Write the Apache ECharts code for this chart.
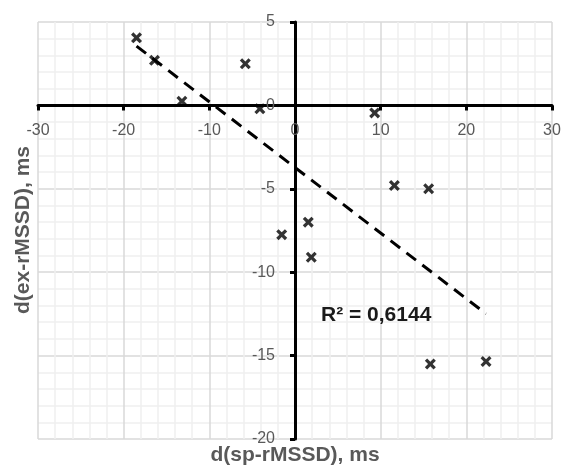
<!DOCTYPE html>
<html>
<head>
<meta charset="utf-8">
<script src="https://cdn.jsdelivr.net/npm/echarts@6/dist/echarts.min.js"></script>
<style>
html,body{margin:0;padding:0;background:#fff;}
#chart{width:563px;height:468px;}
</style>
</head>
<body>
<div id="chart"></div>
<script>
// Data
const xValues = [-18.5, -16.4, -13.2, -5.8, -4.1, 9.3, 11.6, 15.6, -1.55, 1.55, 1.9, 15.8, 22.3];
const yValues = [4.05, 2.7, 0.25, 2.5, -0.2, -0.45, -4.8, -5.0, -7.75, -7.0, -9.1, -15.5, -15.35];
const xTitle = 'd(sp-rMSSD), ms';
const yTitle = 'd(ex-rMSSD), ms';
const r2Label = 'R² = 0,6144';
const xRange = [-30, 30, 10];
const yRange = [-20, 5, 5];

const points = xValues.map((x, i) => [x, yValues[i]]);

// linear regression trendline (computed from the data)
const n = xValues.length;
const mx = xValues.reduce((a, b) => a + b, 0) / n;
const my = yValues.reduce((a, b) => a + b, 0) / n;
let sxy = 0, sxx = 0;
for (let i = 0; i < n; i++) { sxy += (xValues[i] - mx) * (yValues[i] - my); sxx += (xValues[i] - mx) ** 2; }
const slope = sxy / sxx;
const intercept = my - slope * mx;
const xMin = Math.min(...xValues), xMax = Math.max(...xValues);
const trend = [[xMin, intercept + slope * xMin], [xMax, intercept + slope * xMax]];

const xSymbol = 'path://M0,2.1 L2.1,0 L5,2.9 L7.9,0 L10,2.1 L7.1,5 L10,7.9 L7.9,10 L5,7.1 L2.1,10 L0,7.9 L2.9,5 Z';

const FONT = '"Liberation Sans", Arial, sans-serif';

// grid layout
const W = 563, H = 468;
const G = { left: 38, right: 11, top: 22, bottom: 29 };
const gw = W - G.left - G.right, gh = H - G.top - G.bottom;
// axes cross at zero: offset each axis from its grid edge to the zero line
const yAxisOffset = -gw * (0 - xRange[0]) / (xRange[1] - xRange[0]);
const xAxisOffset = -gh * (0 - yRange[0]) / (yRange[1] - yRange[0]);

function axisCommon(margin) {
  return {
    type: 'value',
    axisLine: { show: true, onZero: false, lineStyle: { color: '#000', width: 3 } },
    axisTick: { show: true, length: 5, inside: false, lineStyle: { color: '#000', width: 3 } },
    axisLabel: { fontFamily: FONT, fontSize: 16, color: '#595959', margin: margin },
    splitLine: { show: true, lineStyle: { color: '#d9d9d9', width: 1.5 } },
    minorTick: { show: false, splitNumber: 5 },
    minorSplitLine: { show: true, lineStyle: { color: '#efefef', width: 1.5 } }
  };
}

const chart = echarts.init(document.getElementById('chart'), null, { renderer: 'canvas' });
chart.setOption({
  animation: false,
  backgroundColor: '#fff',
  grid: { left: G.left, right: G.right, top: G.top, bottom: G.bottom, containLabel: false, outerBoundsMode: 'none' },
  xAxis: Object.assign(axisCommon(17), { position: 'bottom', offset: xAxisOffset, min: xRange[0], max: xRange[1], interval: xRange[2] }),
  yAxis: Object.assign(axisCommon(20), { position: 'left', offset: yAxisOffset, min: yRange[0], max: yRange[1], interval: yRange[2] }),
  graphic: [
    { type: 'text', x: 295, y: 455, style: { text: xTitle, font: 'bold 21px ' + FONT, fill: '#595959', textAlign: 'center', textVerticalAlign: 'middle' } },
    { type: 'text', x: 23, y: 230, rotation: Math.PI / 2, style: { text: yTitle, font: 'bold 21px ' + FONT, fill: '#595959', textAlign: 'center', textVerticalAlign: 'middle' } },
    { type: 'text', x: 321, y: 315, z: 10, style: { text: r2Label, font: 'bold 21px ' + FONT, fill: '#1a1a1a', textAlign: 'left', textVerticalAlign: 'middle' } }
  ],
  series: [
    {
      type: 'line',
      data: trend,
      symbol: 'none',
      lineStyle: { color: '#000', width: 3, type: [12, 8] },
      z: 3
    },
    {
      type: 'scatter',
      data: points,
      symbol: xSymbol,
      symbolSize: 11,
      itemStyle: { color: '#000' },
      z: 4
    }
  ]
});
</script>
</body>
</html>
